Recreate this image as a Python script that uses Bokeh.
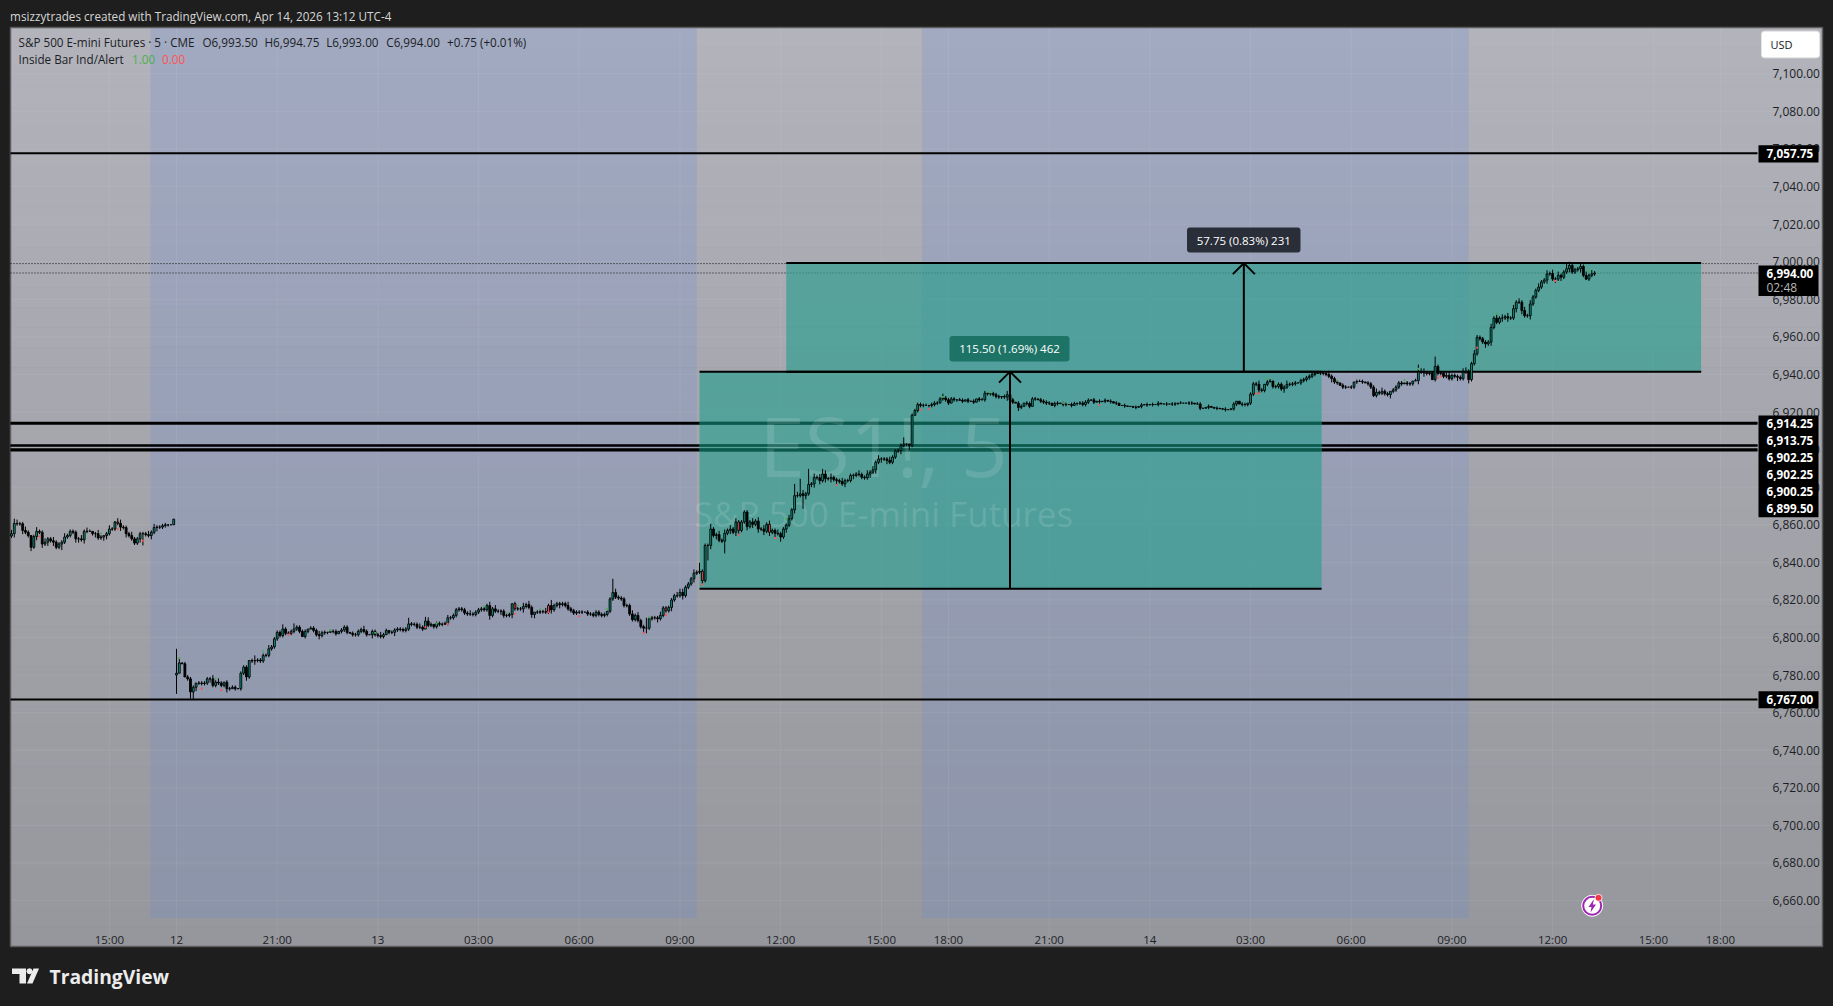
import numpy as np
from bokeh.core.properties import value
from bokeh.embed import file_html
from bokeh.models import ColumnDataSource, FixedTicker, Label, PolyAnnotation, Range1d
from bokeh.models.glyphs import Quad
from bokeh.plotting import figure
from bokeh.resources import INLINE

# ---------- data (5-minute bars) ----------
closes_fri = [6855.25,6860.75,6860.5,6860.5,6857,6856,6854.25,6848,6853.75,6856.5,
 6856,6849.75,6850.75,6852.5,6851.5,6850.75,6848,6849.75,6850.75,6853.5,
 6854.25,6856.5,6856,6852.5,6852.5,6852,6856.5,6856.5,6856.5,6855.25,
 6855.25,6853,6853.5,6854.25,6855.25,6857.75,6857.75,6861.5,6860.75,6858.75,
 6858.5,6855.25,6854.25,6852.5,6850.25,6852.5,6855.25,6855.25,6854.75,6854.25,
 6856,6858.5,6858.75,6858.75,6859.5,6860,6860,6860,6863]
closes_sun = [6781,6786.5,6786,6779,6778,6771,6773.5,6775.75,6775.75,6775.5,
 6775.75,6778,6778,6774.5,6776.25,6775.75,6774.5,6776.25,6772.75,6772.75,
 6773.5,6772.75,6772.75,6781,6784.25,6779,6787.75,6787.5,6787.75,6788,
 6787.5,6790.5,6790.5,6794,6795,6799.25,6802.75,6801,6804.5,6802.25,
 6802.25,6803.25,6804.5,6805.5,6803.25,6800.5,6803.25,6804.5,6805,6803.75,
 6801.5,6801,6802.5,6802.75,6802.75,6803.25,6803.25,6802,6803.25,6804,
 6805.5,6802.75,6802.25,6801.5,6801.5,6803.25,6804.25,6803.25,6801.5,6801.5,
 6803.25,6801.5,6801,6800.5,6801.5,6803.75,6802.75,6802.75,6804,6804.5,
 6804.25,6803.75,6804.5,6807.25,6807,6807,6805.5,6805.5,6804.5,6808.75,
 6806.5,6807,6805.75,6807.5,6807,6807,6807.5,6810.5,6810.5]
closes_mon_am = [6811.75,6814.75,6815.25,6814.75,6813,6812.5,6812.5,6812.25,6813.5,6814.75,
 6815.25,6814.75,6817,6811.75,6815.25,6814,6814,6814,6811.75,6811.75,
 6812.25,6818,6815.25,6815.25,6815.25,6816.5,6817.5,6816,6812.25,6813.5,
 6813.5,6813.75,6813.75,6813.5,6817,6814.75,6817,6818,6817.5,6818,
 6817,6815.25,6814.25,6813,6813.5,6813.5,6813.5,6813.5,6812.5,6812.5,
 6811.75,6813.5,6812.25,6811.75,6812.25,6814,6820.5,6824,6821.5,6821,
 6820.5,6817,6817,6812.5,6809.5,6811.75,6809,6805.75,6805,6805,
 6810,6810.5,6810.5,6810,6811.75,6815.75,6814.25,6816,6820,6822.25,
 6822.25,6824,6822.25,6826.75,6828.5,6831.25,6834.25,6834.75,6835.25,6830.25]
closes_mon_pm = [6849,6849,6857.75,6854.25,6854.75,6851.75,6851.25,6855.5,6857,6857.75,
 6856,6861.5,6857,6861.5,6866.75,6859,6861.5,6860.25,6862,6857.75,
 6857.75,6856.5,6860.25,6856,6857,6855.5,6855.25,6853.5,6857.75,6859.75,
 6863.25,6868,6875.5,6875.5,6876.5,6875.5,6876.5,6881.5,6881.75,6885.25,
 6885,6883.5,6887,6884.5,6884.5,6885.25,6884,6883.5,6883,6881.75,
 6883.5,6883.5,6886.25,6886.25,6887,6886.75,6885.25,6885,6887,6888,
 6889.25,6893.25,6895,6895,6895,6894.25,6893.25,6896,6899.25,6899.5,
 6902.25,6903,6903,6902.25,6918.25,6920.75,6924,6923.5,6923.5,6923.5,
 6923.5,6924,6924.75,6924.75,6927,6927.5,6926.5,6924.75,6927,6926.5,
 6926.5,6926.25,6925.75,6926.5,6925.75,6925.75,6925.25,6927,6926.5,6926.5,
 6930,6929.75,6929.75,6929.25,6928.25,6928,6928.25,6928,6929.25,6926.5,
 6925.25,6924.75,6922.5,6923,6924.75,6924.5,6923,6927,6927,6926.5,
 6925.75,6925.25,6924.75,6924.75,6923.5,6924.5,6924.75,6924.5,6924,6924,
 6924,6923.5,6924.5,6924.75,6924.75,6924]
closes_tue = [6925.25,6926.25,6926.5,6925.25,6925.75,6925.5,6925.75,6926.25,6925.75,6925.5,
 6924.75,6924.75,6923.5,6923.5,6923.25,6923,6923,6922.5,6922.5,6923,
 6923.75,6924,6923.75,6924,6924,6924,6924.75,6924.25,6924.25,6924.25,
 6924.25,6924.25,6924.25,6924.75,6924.75,6924.75,6924.75,6924.75,6924.75,6924.25,
 6924.25,6922,6922,6922.5,6923,6922.5,6922,6922,6921.75,6921.5,
 6921.25,6921.25,6921.75,6924.25,6925.75,6924.25,6924,6924,6924.75,6929.5,
 6935,6934.75,6931.75,6931.5,6934.75,6936,6936.5,6933.5,6933.5,6934.75,
 6932.25,6933.25,6934.75,6934.75,6935,6935.5,6935.5,6936.75,6937.25,6938.25,
 6939,6940,6940.5,6940.75,6940.75,6940.5,6940,6939,6937.75,6936,
 6935.5,6934.25,6933.25,6933.25,6933.25,6933.25,6936,6936.25,6936.25,6936,
 6935.5,6935,6933.25,6928.75,6930.5,6930,6931,6929.75,6929.25,6931,
 6931.75,6933.25,6935.5,6935,6935.5,6935,6935,6936.5,6936.75,6941.25,
 6941.25,6940.75,6940.5,6940.75,6937.25,6944.25,6940.5,6940.75,6939,6939.5,
 6937.75,6939.5,6939,6938.5,6937.75,6941.25,6941.75,6937.25,6945.75,6951,
 6959.75,6959,6957.25,6956.25,6957.25,6965,6970,6967.75,6970,6970,
 6970.75,6970,6970,6975,6978.5,6978.5,6974,6971.25,6971.25,6977.5,
 6981.25,6984.75,6986.5,6989.25,6990.25,6993.5,6993.75,6990.75,6990.75,6992.75,
 6991.75,6994.5,6996.25,6998,6994.5,6995.75,6996.25,6997.5,6992.75,6990.75,
 6992.75,6993.5,6994]
seg_start = [-59, 0, 99, 189, 325]
seg_first_open = {-59: 6854.0, 0: 6780.0, 189: 6830.25}

# upper / lower wick of each bar in whole points, one digit per bar
wick_up = ("2221121012" "1121121112" "1111121210" "1210121222" "1112111112" "1211110000" "0"
 "0111101111" "1212101111" "0111011111" "1211111111" "1111101112" "1101110111" "0111121011" "1211011111" "1111121121" "011111111"
 "1111211111" "1212111110" "1112121011" "1211111112" "1111101111" "1110112111" "1121211111" "1121111122" "2111211111"
 "1112121212" "1121121212" "1211211121" "2212121212" "1212111211" "1112112121" "2111211112" "0011111101" "1110111101" "1010101110" "1111012110" "1101111011" "1101101101" "101111"
 "0101010101" "0010001010" "1010100101" "1010011011" "0010010010" "0100110111" "2101101111" "2111011111" "0011121110" "1101011101" "1121211011" "1101101222" "1111111221" "1112211211" "1112121212" "1212121211" "2112121211" "1211121212" "121")
wick_dn = ("1211211212" "1212121121" "1112212101" "2112211112" "1211112211" "2121111000" "0"
 "0010121111" "2111112101" "0110112111" "1111111111" "1110110112" "1110110111" "0111111021" "1110112111" "1111111011" "111101111"
 "1111111111" "1211121112" "1112111211" "1112112111" "1111101111" "1111011111" "1111111111" "1211112111" "2111211111"
 "2121111212" "2112121212" "1212121211" "2111211212" "1212121121" "1211111212" "1212111121" "1110111011" "1101110110" "1010101011" "1111112110" "1101101011" "1101101101" "011111"
 "0101010101" "0010001010" "1010100101" "1000011001" "0010010010" "0110111111" "2111011112" "1111011111" "1011112110" "1101110101" "1111111211" "1101110212" "1111111111" "1211121111" "1212111212" "1121211211" "1112112121" "1211121111" "111")
big_highs = {-58: 6863.25, -50: 6858.75, -22: 6862, 0: 6794, 1: 6789, 28: 6790.5, 38: 6807, 42: 6807.5, 83: 6810.5, 89: 6811, 97: 6812,
 134: 6820, 156: 6831.25, 165: 6813.5, 168: 6810.5, 187: 6839.75, 191: 6860.5, 203: 6867.75, 221: 6881.75, 223: 6884.5, 226: 6889.75, 231: 6889.75,
 260: 6906.5, 274: 6929.75, 289: 6931.25, 385: 6936, 444: 6945.25, 450: 6949.5, 465: 6961, 479: 6979.5, 497: 6999}
big_lows = {-51: 6847.25, -41: 6846.5, -12: 6849, 0: 6770, 5: 6767.5, 6: 6767.25, 25: 6777, 112: 6809.5, 117: 6810.5, 127: 6810.5,
 155: 6813, 167: 6802.25, 168: 6802.25, 188: 6828.5, 190: 6841, 196: 6844.75, 216: 6851, 224: 6868.5, 227: 6880, 239: 6880, 262: 6899.5,
 301: 6920.5, 428: 6928, 449: 6937, 504: 6990.25}
red_body_bars = [-21, -12, 41, 121, 133, 175, 188, 201, 212, 386, 452]

red_dot_i = [-49,-21,-12,9,16,40,89,97,121,133,144,167,175,188,201,214,236,266,269,330,386,387,451,452,465,493]
red_dot_p = [6853.75,6857.75,6851.5,6772.75,6772,6801.5,6805.5,6807.25,6812.5,6813.5,6811.25,6802.5,6812,6828.25,6854.75,6853,6881.25,6921.25,6921.75,6923.75,6929.75,6930,6938.25,6939,6954.25,6989.75]
green_dot_i = [-27,1,14,31,55,71,93,110,118,122,130,154,169,218,274,291,317,390,393,415,439,444,472,505]
green_dot_p = [6855.5,6789,6778.25,6792.75,6803.75,6802.5,6807.5,6816.5,6813,6817,6815,6815.25,6810.75,6863.25,6928,6930.5,6924.75,6937.75,6935,6936.75,6937,6943,6972.25,6995.25]

tick_bars = [-24,0,36,72,108,144,180,216,252,276,312,348,384,420,456,492,528,552]
tick_names = ["15:00","12","21:00","13","03:00","06:00","09:00","12:00","15:00","18:00","21:00","14","03:00","06:00","09:00","12:00","15:00","18:00"]
price_ticks = list(range(6660, 7101, 20))
levels = [7057.75, 6914.25, 6913.75, 6902.25, 6902.25, 6900.25, 6899.5, 6767.0]
last_price = 6994.0
session_high_line = 6999.0
sessions = [(-9.3, 186), (266.5, 462)]
box_bars = [(187, 409.4), (218, 545.1)]
box_prices = [(6826.0, 6941.5), (6941.5, 6999.25)]
arrow_bars = [298, 381.6]
arrow_notes = ["115.50 (1.69%) 462", "57.75 (0.83%) 231"]

# ---------- layout helpers: page pixels -> chart scales ----------
def bar(x):
    return (x - 176) / 2.797

def price(y):
    return 7057.75 - (y - 152.7) / 1.879

FONT = "Open Sans"
TOP, BOTTOM, LEFT, RIGHT = 27, 946, 10, 1822

p = figure(width=1833, height=1006, output_backend="svg", toolbar_location=None,
           x_range=Range1d(bar(0), bar(1833)), y_range=Range1d(price(1006), price(0)),
           y_axis_location="right", x_axis_location="below",
           min_border_left=0, min_border_right=0, min_border_top=0, min_border_bottom=0,
           border_fill_color="#1e1e1e", background_fill_color="#1e1e1e")
p.outline_line_color = None
p.grid.visible = False

for ax, ticks in ((p.yaxis[0], price_ticks), (p.xaxis[0], tick_bars)):
    ax.ticker = FixedTicker(ticks=ticks)
    ax.axis_line_color = None
    ax.major_tick_line_color = None
    ax.minor_tick_line_color = None
    ax.major_label_text_font = FONT
    ax.major_label_text_color = "#1c1e26"
p.yaxis[0].major_label_overrides = {t: f"{t:,.2f}" for t in price_ticks}
p.xaxis[0].major_label_overrides = dict(zip(tick_bars, tick_names))
p.yaxis[0].major_label_text_font_size = "12px"
p.xaxis[0].major_label_text_font_size = "11.5px"
p.yaxis[0].major_label_standoff = -67
p.xaxis[0].major_label_standoff = -81

# vertical background gradient
edges = np.linspace(TOP, BOTTOM, 47)
cols = []
for y in (edges[:-1] + edges[1:]) / 2:
    t = (y - TOP) / (BOTTOM - TOP)
    cols.append("#%02x%02x%02x" % (round(178 - 28 * t), round(179 - 28 * t), round(187 - 31 * t)))
p.quad(left=bar(LEFT), right=bar(RIGHT), top=[price(e) for e in edges[:-1]], bottom=[price(e) for e in edges[1:]],
       fill_color=cols, line_color=cols, level="image")
# session shading
p.quad(left=[s[0] for s in sessions], right=[s[1] for s in sessions], top=price(TOP), bottom=price(917.7),
       fill_color="#6589de", fill_alpha=0.2, line_color=None, level="image")
# grid and chart frame
p.segment(x0=tick_bars, x1=tick_bars, y0=price(TOP), y1=price(BOTTOM), line_color="#ffffff", line_alpha=0.07, level="underlay")
p.segment(x0=bar(LEFT), x1=bar(RIGHT), y0=price_ticks, y1=price_ticks, line_color="#ffffff", line_alpha=0.07, level="underlay")
p.quad(left=bar(LEFT), right=bar(RIGHT), top=price(TOP), bottom=price(BOTTOM), fill_color=None,
       line_color="#5c5c5c", line_width=1.5, level="underlay")

# horizontal levels and last price lines
p.segment(x0=bar(LEFT), x1=bar(1757), y0=levels, y1=levels, line_color="#000000", line_width=2)
p.segment(x0=bar(LEFT), x1=bar(1757), y0=[session_high_line, last_price], y1=[session_high_line, last_price],
          line_color="#111111", line_width=1, line_dash="1 2")

# measure boxes
p.quad(left=[b[0] for b in box_bars], right=[b[1] for b in box_bars], bottom=[b[0] for b in box_prices],
       top=[b[1] for b in box_prices], fill_color="#2f9f90", fill_alpha=0.68, line_color=None)
# levels seen through the lower box
inside = [v for v in levels if box_prices[0][0] < v < box_prices[0][1]]
p.segment(x0=box_bars[0][0], x1=box_bars[0][1], y0=inside, y1=inside, line_color="#0c5a4e", line_width=2)
for (b0, b1), (lo, hi) in zip(box_bars, box_prices):
    p.segment(x0=[b0, b0], x1=[b1, b1], y0=[lo, hi], y1=[lo, hi], line_color="#000000", line_width=2)

# watermark
p.text(x=[bar(883)], y=[price(444)], text=["ES1!, 5"], text_align="center", text_baseline="alphabetic",
       text_font=value(FONT), text_font_size="82px", text_color="#ffffff", text_alpha=0.12)
p.text(x=[bar(883)], y=[price(513)], text=["S&P 500 E-mini Futures"], text_align="center", text_baseline="alphabetic",
       text_font=value(FONT), text_font_size="35px", text_color="#ffffff", text_alpha=0.12)

# candles
closes = closes_fri + closes_sun + closes_mon_am + closes_mon_pm + closes_tue
index = []
for s, seg in zip(seg_start, (closes_fri, closes_sun, closes_mon_am, closes_mon_pm, closes_tue)):
    index += list(range(s, s + len(seg)))
opens = [seg_first_open.get(i, closes[n - 1]) for n, i in enumerate(index)]
ups = [int(d) for d in wick_up]
dns = [int(d) for d in wick_dn]
highs, lows, fills = [], [], []
for i, o, c, u, d in zip(index, opens, closes, ups + [0] * len(closes), dns + [0] * len(closes)):
    highs.append(big_highs.get(i, max(o, c) + u))
    lows.append(big_lows.get(i, min(o, c) - d))
    fills.append("#ff5252" if i in red_body_bars else ("#089981" if c >= o else "#000000"))
src = ColumnDataSource(dict(i=index, o=opens, c=closes, h=highs, l=lows, f=fills))
p.segment(x0="i", x1="i", y0="l", y1="h", source=src, line_color="#000000", line_width=1)
p.vbar(x="i", width=0.66, top="o", bottom="c", source=src, fill_color="f", line_color="#000000", line_width=0.9)
p.scatter(red_dot_i, red_dot_p, size=2.2, fill_color="#ff5252", line_color=None)
p.scatter(green_dot_i, green_dot_p, size=2.2, fill_color="#4caf50", line_color=None)

# arrows of the measure tool
dx, dy = 11 / 2.797, 11 / 1.879
for xa, (lo, hi) in zip(arrow_bars, box_prices):
    p.segment(x0=[xa, xa - dx, xa + dx], x1=[xa, xa, xa], y0=[lo, hi - dy, hi - dy], y1=[hi, hi, hi],
              line_color="#000000", line_width=2)

rounded = {"border_radius": 3} if "border_radius" in Quad.properties() else {}
notes_px = [(949, 1069, 335.5, 361, "#1d7466"), (1186.5, 1300, 227, 252, "#2a2e39")]
for (x0, x1, y0, y1, col), txt in zip(notes_px, arrow_notes):
    p.quad(left=bar(x0), right=bar(x1), top=price(y0), bottom=price(y1), fill_color=col, line_color=None, **rounded)
    p.text(x=[bar((x0 + x1) / 2)], y=[price((y0 + y1) / 2)], text=[txt], text_align="center", text_baseline="middle",
           text_font=value(FONT), text_font_size="11.5px", text_color="#ffffff")

# price tags on the scale
p.quad(left=bar(1758), right=bar(1818), top=price(144.8), bottom=price(162), fill_color="#000000", line_color=None, level="overlay")
p.quad(left=bar(1758), right=bar(1818), top=price(415), bottom=price(516.7), fill_color="#000000", line_color=None, level="overlay")
p.quad(left=bar(1758), right=bar(1818), top=price(690.7), bottom=price(707.7), fill_color="#000000", line_color=None, level="overlay")
p.quad(left=bar(1758), right=bar(1818), top=price(265), bottom=price(295.5), fill_color="#000000", line_color=None, level="overlay")
tag_y = [153, 423, 440, 457, 474, 491, 508, 699]
p.text(x=[bar(1766)] * len(levels), y=[price(y) for y in tag_y], text=[f"{v:,.2f}" for v in levels],
       text_baseline="middle", text_font=value(FONT), text_font_size="11.7px", text_font_style="bold",
       text_color="#ffffff", level="overlay")
p.text(x=[bar(1766)], y=[price(273)], text=[f"{last_price:,.2f}"], text_baseline="middle", text_font=value(FONT),
       text_font_size="11.7px", text_font_style="bold", text_color="#ffffff", level="overlay")
p.text(x=[bar(1766)], y=[price(287)], text=["02:48"], text_baseline="middle", text_font=value(FONT),
       text_font_size="12px", text_color="#b8b8b8", level="overlay")

# USD button
p.quad(left=bar(1761), right=bar(1819), top=price(30.7), bottom=price(57.3), fill_color="#ffffff", line_color="#e6e6e6",
       level="overlay", **rounded)
p.text(x=[bar(1770)], y=[price(44)], text=["USD"], text_baseline="middle", text_font=value(FONT),
       text_font_size="11px", text_color="#131722", level="overlay")

# status icon
p.scatter([bar(1591.7)], [price(905.3)], size=21, fill_color="#ffffff", line_color="#ffffff", level="overlay")
p.scatter([bar(1591.7)], [price(905.3)], size=18, fill_color="#ffffff", line_color="#9c27b0", line_width=2, level="overlay")
p.patch(x=[bar(v) for v in (1593.5, 1588, 1591, 1590, 1595.5, 1592.3)],
        y=[price(v) for v in (898.5, 906.5, 906.5, 912, 904, 904)], fill_color="#9c27b0", line_color=None, level="overlay")
p.scatter([bar(1598)], [price(897.3)], size=7, fill_color="#f23645", line_color="#ffffff", line_width=0.8, level="overlay")

# legend and outside texts
def label(x, y, text, color, size="11.7px", style="normal"):
    p.add_layout(Label(x=bar(x), y=price(y), text=text, text_color=color, text_font=FONT, text_font_size=size,
                       text_font_style=style, text_baseline="middle", text_align="left"))

label(9.6, 15, "msizzytrades created with TradingView.com, Apr 14, 2026 13:12 UTC-4", "#d6d6d6")
ink = "#1c1e26"
label(18, 41.7, "S&P 500 E-mini Futures · 5 · CME", ink)
label(202, 41.7, "O6,993.50", ink)
label(264, 41.7, "H6,994.75", ink)
label(325.7, 41.7, "L6,993.00", ink)
label(385.8, 41.7, "C6,994.00", ink)
label(446.6, 41.7, "+0.75 (+0.01%)", ink)
label(18, 58.7, "Inside Bar Ind/Alert", ink)
label(131.6, 58.7, "1.00", "#4caf50")
label(161.5, 58.7, "0.00", "#ff5252")
label(49, 976, "TradingView", "#ececec", "19.3px", "bold")

# TradingView mark
def poly(xs, ys):
    p.add_layout(PolyAnnotation(xs=[bar(v) for v in xs], ys=[price(v) for v in ys], fill_color="#ececec",
                                fill_alpha=1, line_color=None))

poly((11.5, 25.5, 25.5, 19, 19, 11.5), (968, 968, 983, 983, 973.5, 973.5))
poly((29, 31.2, 32, 31.2, 29, 26.8, 26, 26.8), (967.8, 968.6, 970.8, 973, 973.8, 973, 970.8, 968.6))
poly((33, 38.5, 32, 26.5), (968, 968, 983, 983))

html = file_html(p, INLINE).replace("<head>", "<head><style>html,body{background:#1e1e1e;overflow:hidden}</style>", 1)
open("out.html", "w").write(html)
